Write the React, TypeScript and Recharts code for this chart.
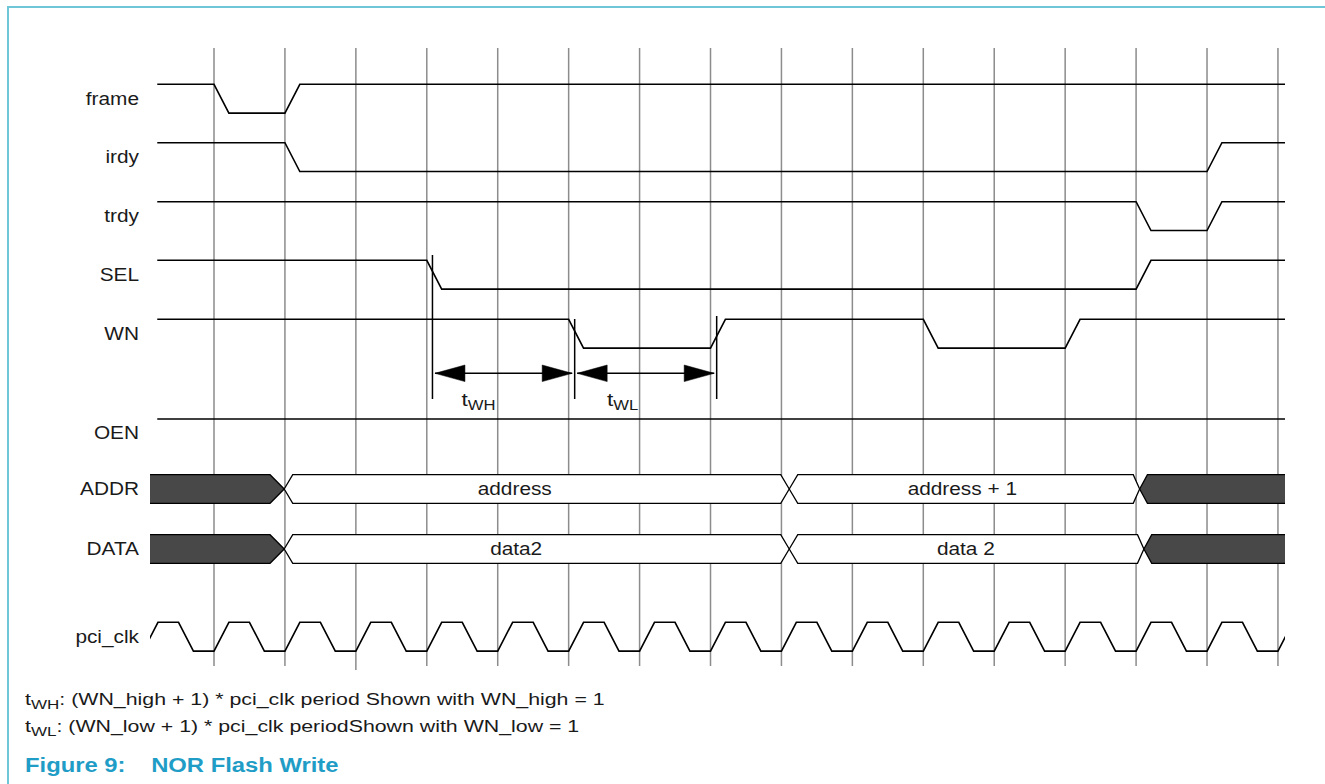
import React from 'react';
import { ComposedChart, Line, Area, Scatter, XAxis, YAxis } from 'recharts';

// ---------------- data (time in pci_clk periods, logic levels 0/1) ----------------
const SIGNAL_NAMES = ['frame', 'irdy', 'trdy', 'SEL', 'WN', 'OEN'];
const FRAME_WAVE = [[-0.8, 1], [0, 1], [0.21, 0], [1, 0], [1.21, 1], [15.2, 1]];
const IRDY_WAVE = [[-0.8, 1], [1, 1], [1.21, 0], [14, 0], [14.21, 1], [15.2, 1]];
const TRDY_WAVE = [[-0.8, 1], [13, 1], [13.21, 0], [14, 0], [14.21, 1], [15.2, 1]];
const SEL_WAVE = [[-0.8, 1], [3, 1], [3.21, 0], [13, 0], [13.21, 1], [15.2, 1]];
const WN_WAVE = [[-0.8, 1], [5, 1], [5.21, 0], [7, 0], [7.21, 1], [10, 1], [10.21, 0], [12, 0], [12.21, 1], [15.2, 1]];
const OEN_WAVE = [[-0.8, 1], [15.2, 1]];
const SIGNAL_WAVES = [FRAME_WAVE, IRDY_WAVE, TRDY_WAVE, SEL_WAVE, WN_WAVE, OEN_WAVE];

const CLOCK_NAME = 'pci_clk';
const CLOCK_CYCLE_STARTS = [-1, 0, 1, 2, 3, 4, 5, 6, 7, 8, 9, 10, 11, 12, 13, 14, 15];
const CLOCK_CYCLE_SHAPE = [[0, 0], [0.21, 1], [0.5, 1], [0.71, 0]];

const GRID_TIMES = [0, 1, 2, 3, 4, 5, 6, 7, 8, 9, 10, 11, 12, 13, 14, 15];

const BUS_NAMES = ['ADDR', 'DATA'];
const ADDR_SEGMENTS = [
  { state: 'x', label: '', labelAt: 0, times: [-0.95, -0.95, 0.79, 0.99] },
  { state: 'valid', label: 'address', labelAt: 4.24, times: [0.99, 1.11, 7.99, 8.11] },
  { state: 'valid', label: 'address + 1', labelAt: 10.55, times: [8.11, 8.23, 12.96, 13.05] },
  { state: 'x', label: '', labelAt: 0, times: [13.05, 13.16, 15.2, 15.2] },
];
const DATA_SEGMENTS = [
  { state: 'x', label: '', labelAt: 0, times: [-0.95, -0.95, 0.79, 0.99] },
  { state: 'valid', label: 'data2', labelAt: 4.26, times: [0.99, 1.11, 7.99, 8.11] },
  { state: 'valid', label: 'data 2', labelAt: 10.6, times: [8.11, 8.23, 13.02, 13.11] },
  { state: 'x', label: '', labelAt: 0, times: [13.11, 13.22, 15.2, 15.2] },
];
const BUS_SEGMENTS = [ADDR_SEGMENTS, DATA_SEGMENTS];

const TIMING_MARK_TIMES = [3.08, 5.085, 7.087];
const TIMING_INTERVALS = [
  { sub: 'WH', from: 3.08, to: 5.085, labelAt: 3.49 },
  { sub: 'WL', from: 5.085, to: 7.087, labelAt: 5.54 },
];

const NOTE_LINES = [
  { sub: 'WH', text: ': (WN_high + 1) * pci_clk period Shown with WN_high = 1' },
  { sub: 'WL', text: ': (WN_low + 1) * pci_clk periodShown with WN_low = 1' },
];
const CAPTION_NUM = 'Figure 9:';
const CAPTION_TITLE = 'NOR Flash Write';

// ---------------- layout / style ----------------
const PERIOD_PX = 70.93;
const T0_PX = 214;
const PLOT_LEFT = 150;
const PLOT_RIGHT = 1285;
const X_DOMAIN = [(PLOT_LEFT - T0_PX) / PERIOD_PX, (PLOT_RIGHT - T0_PX) / PERIOD_PX];
const SIGNAL_HIGH_Y = [84.3, 142.7, 201.7, 260.3, 319.3, 419];
const CLOCK_HIGH_Y = 622.3;
const AMP = 28.8;
const BUS_CENTER_Y = [489, 549];
const BUS_HALF = 14.3;
const GRID_TOP = 48;
const GRID_BOTTOM = 666;
const MARK_TOPS = [255, 319, 316];
const MARK_BOTTOM = 399;
const ARROW_Y = 373.3;
const ANNOT_LABEL_Y = 405.5;
const SX = 1.19;
const NOTE_SX = 1.31;
const FONT = '"Liberation Sans", Arial, Helvetica, sans-serif';
const TEAL = '#1f9dc6';
const BORDER = '#6ec6d6';
const GRID_COLOR = '#8c8c8c';
const DARK = '#484848';

// ---------------- derived series ----------------
const signalSeries = SIGNAL_WAVES.map((wave, i) =>
  wave.map(([t, lvl]) => ({ t, y: SIGNAL_HIGH_Y[i] + (1 - lvl) * AMP }))
);
const clockSeries = CLOCK_CYCLE_STARTS.flatMap((c) =>
  CLOCK_CYCLE_SHAPE.map(([dt, lvl]) => ({ t: c + dt, y: CLOCK_HIGH_Y + (1 - lvl) * AMP }))
);
const gridSeries = GRID_TIMES.flatMap((t) => [
  { t, y: GRID_TOP },
  { t, y: t === 2 ? GRID_BOTTOM + 4 : GRID_BOTTOM },
  { t, y: null },
]);
const markSeries = TIMING_MARK_TIMES.flatMap((t, i) => [
  { t, y: MARK_TOPS[i] },
  { t, y: MARK_BOTTOM },
  { t, y: null },
]);
const GAP = 2.5 / PERIOD_PX;
const arrowShaftSeries = TIMING_INTERVALS.flatMap((iv) => [
  { t: iv.from + GAP, y: ARROW_Y },
  { t: iv.to - GAP, y: ARROW_Y },
  { t: iv.to, y: null },
]);
const arrowHeadSeries = TIMING_INTERVALS.flatMap((iv) => [
  { t: iv.from + GAP, y: ARROW_Y, dir: -1 },
  { t: iv.to - GAP, y: ARROW_Y, dir: 1 },
]);
const annotLabelSeries = TIMING_INTERVALS.map((iv) => ({ t: iv.labelAt, y: ANNOT_LABEL_Y, sub: iv.sub }));

function busPolygon(times: number[], center: number) {
  const [a, b, c, d] = times;
  const full = [center - BUS_HALF, center + BUS_HALF];
  const pinch = [center, center];
  const pts: { t: number; v: number[] }[] = [];
  pts.push({ t: a, v: a === b ? full : pinch });
  if (b !== a) pts.push({ t: b, v: full });
  if (c !== d) pts.push({ t: c, v: full });
  pts.push({ t: d, v: c === d ? full : pinch });
  return pts;
}
const busAreas = BUS_SEGMENTS.flatMap((segs, bi) =>
  segs.map((s) => ({ state: s.state, data: busPolygon(s.times, BUS_CENTER_Y[bi]) }))
);
const busLabelSeries = BUS_SEGMENTS.flatMap((segs, bi) =>
  segs.filter((s) => s.label).map((s) => ({ t: s.labelAt, y: BUS_CENTER_Y[bi], label: s.label }))
);

const ROW_LABELS = [...SIGNAL_NAMES, ...BUS_NAMES, CLOCK_NAME];
const ROW_LABEL_Y = [
  ...SIGNAL_HIGH_Y.map((y) => y + AMP / 2),
  ...BUS_CENTER_Y,
  CLOCK_HIGH_Y + AMP / 2,
];

const RowTick = (props: any) => {
  const { y, index } = props;
  return (
    <text
      transform={`translate(139,${y}) scale(${SX},1)`}
      textAnchor="end"
      dominantBaseline="central"
      fontFamily={FONT}
      fontSize={17.5}
      fill="#1a1a1a"
    >
      {ROW_LABELS[index]}
    </text>
  );
};

const BusLabel = (props: any) => {
  const { cx, cy, payload } = props;
  return (
    <text
      transform={`translate(${cx},${cy}) scale(${SX},1)`}
      textAnchor="middle"
      dominantBaseline="central"
      fontFamily={FONT}
      fontSize={17.5}
      fill="#1a1a1a"
    >
      {payload.label}
    </text>
  );
};

const ArrowHead = (props: any) => {
  const { cx, cy, payload } = props;
  const d = payload.dir;
  const L = 30;
  const H = 8.3;
  const pts = `${cx},${cy} ${cx - d * L},${cy - H} ${cx - d * L},${cy + H}`;
  return <polygon points={pts} fill="#000" stroke="#000" strokeWidth={0.5} />;
};

const AnnotLabel = (props: any) => {
  const { cx, cy, payload } = props;
  return (
    <text
      transform={`translate(${cx},${cy}) scale(${SX},1)`}
      textAnchor="start"
      fontFamily={FONT}
      fontSize={19}
      fill="#1a1a1a"
    >
      t
      <tspan fontSize={14} dy={4}>
        {payload.sub}
      </tspan>
    </text>
  );
};

export default function App() {
  return (
    <div style={{ position: 'relative', width: 1325, height: 784, overflow: 'hidden', background: '#fff' }}>
      <style>{'body{margin:0;background:#fff}'}</style>
      <div
        style={{
          position: 'absolute',
          left: 7,
          top: 6,
          right: -4,
          bottom: -4,
          borderTop: `2px solid ${BORDER}`,
          borderLeft: `2px solid ${BORDER}`,
        }}
      />
      <div style={{ position: 'absolute', left: 0, top: 0 }}>
        <ComposedChart width={1325} height={784} margin={{ top: 0, right: 1325 - PLOT_RIGHT, bottom: 0, left: 0 }}>
          <XAxis dataKey="t" type="number" domain={X_DOMAIN} allowDataOverflow hide />
          <YAxis
            dataKey="y"
            type="number"
            domain={[0, 784]}
            reversed
            width={PLOT_LEFT}
            ticks={ROW_LABEL_Y}
            interval={0}
            axisLine={false}
            tickLine={false}
            tick={<RowTick />}
          />
          <Line
            data={gridSeries}
            dataKey="y"
            type="linear"
            stroke={GRID_COLOR}
            strokeWidth={1.5}
            dot={false}
            activeDot={false}
            isAnimationActive={false}
            zIndex={50}
          />
          {busAreas.map((b, i) => (
            <Area
              key={'bus' + i}
              data={b.data}
              dataKey="v"
              type="linear"
              fill={b.state === 'x' ? DARK : '#ffffff'}
              fillOpacity={1}
              stroke="#000"
              strokeWidth={1.3}
              dot={false}
              activeDot={false}
              isAnimationActive={false}
              zIndex={100}
            />
          ))}
          {signalSeries.map((s, i) => (
            <Line
              key={'sig' + i}
              data={s}
              dataKey="y"
              type="linear"
              stroke="#000"
              strokeWidth={1.6}
              dot={false}
              activeDot={false}
              isAnimationActive={false}
            />
          ))}
          <Line
            data={clockSeries}
            dataKey="y"
            type="linear"
            stroke="#000"
            strokeWidth={1.6}
            dot={false}
            activeDot={false}
            isAnimationActive={false}
          />
          <Line
            data={markSeries}
            dataKey="y"
            type="linear"
            stroke="#000"
            strokeWidth={1.5}
            dot={false}
            activeDot={false}
            isAnimationActive={false}
          />
          <Line
            data={arrowShaftSeries}
            dataKey="y"
            type="linear"
            stroke="#000"
            strokeWidth={1.5}
            dot={false}
            activeDot={false}
            isAnimationActive={false}
          />
          <Scatter data={arrowHeadSeries} dataKey="y" shape={<ArrowHead />} isAnimationActive={false} />
          <Scatter data={busLabelSeries} dataKey="y" shape={<BusLabel />} isAnimationActive={false} />
          <Scatter data={annotLabelSeries} dataKey="y" shape={<AnnotLabel />} isAnimationActive={false} />
        </ComposedChart>
      </div>
      {NOTE_LINES.map((n, i) => (
        <div
          key={'note' + i}
          style={{
            position: 'absolute',
            left: 25,
            top: 691 + i * 27,
            fontFamily: FONT,
            fontSize: 16.3,
            lineHeight: '16px',
            color: '#1a1a1a',
            whiteSpace: 'nowrap',
            transform: `scaleX(${NOTE_SX})`,
            transformOrigin: 'left top',
          }}
        >
          t
          <span style={{ fontSize: 13, position: 'relative', top: 4 }}>{n.sub}</span>
          {n.text}
        </div>
      ))}
      <div
        style={{
          position: 'absolute',
          left: 25,
          top: 755,
          fontFamily: FONT,
          fontSize: 20,
          lineHeight: '20px',
          fontWeight: 'bold',
          color: TEAL,
          whiteSpace: 'nowrap',
          transform: `scaleX(${SX})`,
          transformOrigin: 'left top',
        }}
      >
        <span>{CAPTION_NUM}</span>
        <span style={{ position: 'absolute', left: 106 }}>{CAPTION_TITLE}</span>
      </div>
    </div>
  );
}
